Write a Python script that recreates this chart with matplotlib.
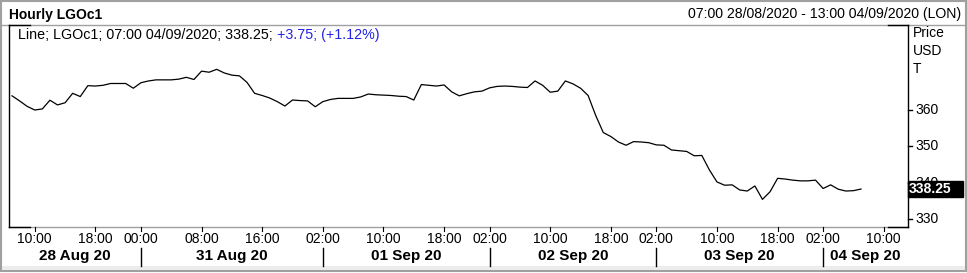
import matplotlib
matplotlib.use("Agg")
import matplotlib.pyplot as plt
from matplotlib.patches import Rectangle

plt.rcParams['font.family'] = ['Liberation Sans', 'DejaVu Sans']

# hourly closes, one per trading bar from 07:00 28/08 to 07:00 04/09
prices = [
    363.9, 362.5, 361.0, 360.0, 360.3, 362.7, 361.4, 362.0, 364.6, 363.7,
    366.7, 366.6, 366.8, 367.3, 367.3, 367.3, 366.0, 367.5, 368.0, 368.3,
    368.3, 368.3, 368.5, 369.0, 368.4, 370.7, 370.4, 371.2, 370.2, 369.6,
    369.4, 367.6, 364.6, 364.0, 363.3, 362.3, 361.1, 362.75, 362.6, 362.5,
    360.9, 362.3, 362.9, 363.2, 363.2, 363.2, 363.6, 364.4, 364.2, 364.1,
    364.0, 363.8, 363.7, 362.75, 367.0, 366.8, 366.6, 366.9, 365.0, 363.9,
    364.5, 365.0, 365.2, 366.1, 366.5, 366.6, 366.5, 366.3, 366.2, 368.0,
    366.8, 364.9, 365.2, 368.0, 367.2, 366.0, 364.0, 358.5, 353.8, 352.7,
    351.2, 350.3, 351.3, 351.2, 351.0, 350.4, 350.3, 349.0, 348.8, 348.6,
    347.4, 347.5, 343.5, 340.2, 339.3, 339.4, 338.0, 337.7, 339.1, 335.4,
    337.5, 341.2, 341.0, 340.7, 340.5, 340.5, 340.7, 338.4, 339.4, 338.2,
    337.7, 337.8, 338.25,
]

# hour tick labels and the bar index they sit on
hour_ticks = [3, 11, 17, 25, 33, 41, 49, 57, 63, 71, 79, 85, 93, 101, 107, 115]
hour_labels = ["10:00", "18:00", "00:00", "08:00", "16:00", "02:00", "10:00", "18:00",
               "02:00", "10:00", "18:00", "02:00", "10:00", "18:00", "02:00", "10:00"]
day_breaks = [17, 41, 63, 85, 107]
day_labels = ["28 Aug 20", "31 Aug 20", "01 Sep 20", "02 Sep 20", "03 Sep 20", "04 Sep 20"]
y_ticks = [330, 340, 350, 360]
last_price = 338.25

W, H = 967, 273
fig = plt.figure(figsize=(W / 100, H / 100), dpi=100)

L, R, T, B = 9, 908, 25, 227
ax = fig.add_axes([L / W, 1 - B / H, (R - L) / W, (B - T) / H])
ax.set_xlim(-0.4, 118.2)
ax.set_ylim(327.8, 383.4)
ax.plot(range(len(prices)), prices, color="black", lw=0.9)
for s in ax.spines.values():
    s.set_visible(False)
ax.set_xticks([])
ax.set_yticks([])

# pixel-space overlay for frame and texts, on top of the plot
bg = fig.add_axes([0, 0, 1, 1])
bg.set_xlim(0, W)
bg.set_ylim(H, 0)
bg.axis("off")
bg.set_zorder(3)

grey = "#a0a0a0"
bg.add_patch(Rectangle((0.5, 0.5), W - 2, H - 3, fill=False, ec=grey, lw=1.5))
bg.add_patch(Rectangle((2, 266), W - 4, 4, color="#ececec", lw=0))
bg.plot([1, W - 2], [T, T], color=grey, lw=1)
bg.plot([L, R], [B, B], color=grey, lw=1)
bg.plot([L, L], [T, B], color="black", lw=1)
bg.plot([R, R], [T, B], color="black", lw=1)
for x0, x1 in [(L, L + 21), (R - 20, R)]:
    bg.plot([x0, x1], [T, T], color="black", lw=1)
    bg.plot([x0, x1], [B, B], color="black", lw=1)

bg.text(9, 15, "Hourly LGOc1", fontsize=10, fontweight="bold", va="center", ha="left")
bg.text(961, 14, "07:00 28/08/2020 - 13:00 04/09/2020 (LON)", fontsize=10.2, va="center", ha="right")

# header line with blue change figures
t1 = bg.text(18, 35, "Line; LGOc1; 07:00 04/09/2020; 338.25; ", fontsize=10.3, va="center", ha="left")
fig.canvas.draw()
bb = t1.get_window_extent()
bg.text(18 + bb.width, 35, "+3.75; (+1.12%)", fontsize=10.3, va="center", ha="left", color="#2323e6")

# right axis
for i, lab in enumerate(["Price", "USD", "T"]):
    bg.text(913, 33 + 18 * i, lab, fontsize=10, va="center", ha="left")
to_px = lambda v: T + (383.4 - v) / (383.4 - 327.8) * (B - T)
for v in y_ticks:
    yp = to_px(v)
    bg.plot([R, R + 4], [yp, yp], color="black", lw=1)
    bg.text(915, yp, str(v), fontsize=10, va="center", ha="left")
yp = to_px(last_price)
bg.add_patch(Rectangle((R, yp - 8), 55, 16, color="black", zorder=5))
bg.text(R + 1, yp, f"{last_price:.2f}", fontsize=10, fontweight="bold", color="white",
        va="center", ha="left", zorder=6)

# time axis
x_px = lambda i: L + (i + 0.4) / 118.6 * (R - L)
for i, lab in zip(hour_ticks, hour_labels):
    xp = x_px(i)
    bg.plot([xp, xp], [B, B + 4], color="black", lw=0.8)
    bg.text(xp, 239, lab, fontsize=10, va="center", ha="center")
edges = [L] + [x_px(i) for i in day_breaks] + [R]
for xp in edges[1:-1]:
    bg.plot([xp, xp], [248, 266], color="black", lw=1)
for k, lab in enumerate(day_labels):
    bg.text((edges[k] + edges[k + 1]) / 2, 256, lab, fontsize=11, fontweight="bold",
            va="center", ha="center")

fig.savefig("out.png", dpi=100)
